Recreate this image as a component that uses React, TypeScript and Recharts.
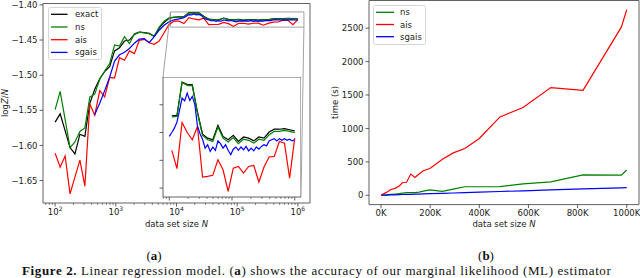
import React from 'react';
import { LineChart, Line, XAxis, YAxis, CartesianGrid, ReferenceArea, ReferenceLine, Legend } from 'recharts';

// ---------- data: (a) accuracy of log Z / N ----------
const sizesN = [100, 121, 146, 176, 212, 256, 309, 373, 450, 543, 655, 791, 954, 1151, 1389, 1677, 2024, 2442, 2947, 3556, 4292, 5179, 6251, 7543, 9103, 10985, 13257, 15999, 19307, 23300, 28118, 33932, 40949, 49417, 59636, 71969, 86851, 104811, 126486, 152642, 184207, 222300, 268270, 323746, 390694, 471487, 568987, 686649, 828643, 1000000];

const exactLogZ = [-1.5668, -1.555, -1.579, -1.603, -1.612, -1.584, -1.587, -1.54, -1.52, -1.505, -1.495, -1.488, -1.4655, -1.461, -1.4514, -1.45, -1.442, -1.4387, -1.4395, -1.4405, -1.4445, -1.433, -1.425, -1.419, -1.4178, -1.417, -1.4169, -1.4109, -1.4113, -1.4114, -1.4163, -1.4203, -1.421, -1.4213, -1.4187, -1.4207, -1.4213, -1.4205, -1.4216, -1.4208, -1.421, -1.4215, -1.4208, -1.421, -1.4199, -1.4194, -1.4194, -1.4193, -1.4195, -1.4197];

const nsLogZ = [-1.549, -1.523, -1.563, -1.603, -1.595, -1.58, -1.575, -1.531, -1.527, -1.506, -1.494, -1.4835, -1.457, -1.4585, -1.4453, -1.4552, -1.441, -1.4387, -1.4397, -1.441, -1.445, -1.4316, -1.4232, -1.4185, -1.4175, -1.4172, -1.4171, -1.411, -1.4115, -1.4116, -1.4165, -1.4205, -1.4213, -1.4216, -1.419, -1.421, -1.4217, -1.4209, -1.422, -1.4212, -1.4214, -1.4219, -1.4212, -1.4214, -1.4204, -1.4198, -1.4198, -1.4196, -1.4198, -1.42];

const aisLogZ = [-1.611, -1.631, -1.615, -1.669, -1.645, -1.621, -1.658, -1.541, -1.557, -1.522, -1.531, -1.503, -1.504, -1.475, -1.4787, -1.4655, -1.4693, -1.4504, -1.449, -1.4538, -1.4561, -1.4514, -1.4397, -1.4278, -1.4232, -1.4232, -1.4265, -1.4182, -1.42, -1.4213, -1.4189, -1.428, -1.4279, -1.4277, -1.4249, -1.4267, -1.4306, -1.4264, -1.4261, -1.4273, -1.4261, -1.4259, -1.4289, -1.4262, -1.4244, -1.4243, -1.4216, -1.4219, -1.4282, -1.421];

const sgaisN = [450, 543, 655, 791, 954, 1151, 1389, 1677, 2024, 2442, 2947, 3556, 4292, 5179, 6251, 7543, 9103, 10000, 10985, 12068, 13257, 14563, 15999, 17575, 19307, 21210, 23300, 25595, 28118, 30888, 33932, 37276, 40949, 44984, 49417, 54287, 59636, 65513, 71969, 79060, 86851, 95410, 104811, 115140, 126486, 138950, 152642, 167683, 184207, 202359, 222300, 244205, 268270, 294705, 323746, 355648, 390694, 429193, 471487, 517947, 568987, 625055, 686649, 754312, 828643, 910298, 1000000];

const sgaisLogZ = [-1.556, -1.54, -1.522, -1.503, -1.48, -1.471, -1.4675, -1.462, -1.4545, -1.4488, -1.448, -1.4538, -1.445, -1.436, -1.429, -1.424, -1.4212, -1.4207, -1.42, -1.4192, -1.4181, -1.416, -1.4138, -1.4143, -1.4129, -1.4142, -1.4135, -1.415, -1.4188, -1.4202, -1.4212, -1.4228, -1.4222, -1.4234, -1.4226, -1.4232, -1.4215, -1.422, -1.4228, -1.4222, -1.4232, -1.424, -1.423, -1.4226, -1.4232, -1.4226, -1.4231, -1.4225, -1.4233, -1.4228, -1.4233, -1.4226, -1.423, -1.4225, -1.4222, -1.4224, -1.4215, -1.4213, -1.4211, -1.4215, -1.4211, -1.4214, -1.4211, -1.4214, -1.4212, -1.4215, -1.4213];

// ---------- data: (b) run time ----------
const timeN = [1000, 20000, 40000, 57000, 74000, 88000, 104000, 121000, 138000, 155000, 172000, 199000, 250000, 294000, 341000, 400000, 484000, 578000, 691000, 822000, 978000, 1000000];
const nsTime = [2, 8, 15, 20, 26, 33, 40, 40, 40, 48, 62, 82, 58, 92, 128, 128, 130, 172, 202, 306, 302, 378];
const aisTime = [5, 40, 88, 104, 140, 192, 195, 318, 268, 320, 367, 400, 540, 635, 701, 850, 1172, 1313, 1611, 1571, 2515, 2775];
const sgaisTime = [1, 4, 6, 8, 10, 12, 13, 15, 17, 19, 21, 24, 30, 35, 41, 47, 57, 68, 80, 95, 112, 116];

// ---------- ticks ----------
const mainYTicks = [-1.65, -1.6, -1.55, -1.5, -1.45, -1.4];
const insetYTicks = [-1.43, -1.425, -1.42, -1.415];
const timeXTicks = [0, 200000, 400000, 600000, 800000, 1000000];
const timeYTicks = [0, 500, 1000, 1500, 2000, 2500];

// ---------- axis ranges ----------
const MAIN_X: [number, number] = [10 ** 1.8, 10 ** 6.2];
const MAIN_Y: [number, number] = [-1.6819, -1.398];
const INSET_X: [number, number] = [10 ** 3.9, 10 ** 6.1];
const INSET_Y: [number, number] = [-1.4316, -1.41];
const TIME_X: [number, number] = [-48950, 1049950];
const TIME_Y: [number, number] = [-138.75, 2913.75];

const C = { exact: '#000000', ns: '#008000', ais: '#ff0000', sgais: '#0000ff' };
const FONT = '"DejaVu Sans", sans-serif';
const TXT = '#222';
const SPINE = '#3a3a3a';

const logMinors = (lo: number, hi: number) => {
  const out: number[] = [];
  for (let e = Math.floor(Math.log10(lo)); e <= Math.ceil(Math.log10(hi)); e++) {
    for (let m = 1; m <= 9; m++) {
      const v = m * 10 ** e;
      if (v >= lo && v <= hi) out.push(v);
    }
  }
  return out;
};
const mainXTicks = logMinors(MAIN_X[0], MAIN_X[1]);
const insetXTicks = logMinors(INSET_X[0], INSET_X[1]);

const mainSeries = [
  { name: 'exact', color: C.exact, data: sizesN.map((n, i) => ({ n, v: exactLogZ[i] })) },
  { name: 'ns', color: C.ns, data: sizesN.map((n, i) => ({ n, v: nsLogZ[i] })) },
  { name: 'ais', color: C.ais, data: sizesN.map((n, i) => ({ n, v: aisLogZ[i] })) },
  { name: 'sgais', color: C.sgais, data: sgaisN.map((n, i) => ({ n, v: sgaisLogZ[i] })) },
];
const insetSeries = mainSeries.map((s) => ({ ...s, data: s.data.filter((d) => d.n >= 10000) }));
const timeSeries = [
  { name: 'ns', color: C.ns, data: timeN.map((n, i) => ({ n, v: nsTime[i] })) },
  { name: 'ais', color: C.ais, data: timeN.map((n, i) => ({ n, v: aisTime[i] })) },
  { name: 'sgais', color: C.sgais, data: timeN.map((n, i) => ({ n, v: sgaisTime[i] })) },
];

// ---------- layout (pixels) ----------
const MAIN_PLOT = { left: 43, top: 3.5, width: 267, height: 199.5 };
const INSET_BOX = { left: 163, top: 77, width: 138, height: 120 };
const pxToMainX = (px: number) => {
  const a = Math.log10(MAIN_X[0]);
  const b = Math.log10(MAIN_X[1]);
  return 10 ** (a + ((px - MAIN_PLOT.left) / MAIN_PLOT.width) * (b - a));
};
const pxToMainY = (py: number) => MAIN_Y[1] - ((py - MAIN_PLOT.top) / MAIN_PLOT.height) * (MAIN_Y[1] - MAIN_Y[0]);

const fmtMinus = (v: number) => (v < 0 ? '\u2212' : '') + Math.abs(v).toFixed(2);

const LogTick = (props: any) => {
  const { x, y, payload, showLabel } = props;
  const e = Math.log10(payload.value);
  const major = Math.abs(e - Math.round(e)) < 1e-6;
  return (
    <g>
      <line x1={x} x2={x} y1={y} y2={y + (major ? 3.5 : 2)} stroke={SPINE} strokeWidth={major ? 0.8 : 0.6} />
      {major && showLabel ? (
        <text x={x} y={y + 11.5} textAnchor="middle" fontSize={8.5} fill={TXT} fontFamily={FONT}>
          10<tspan dy={-3.6} fontSize={6}>{Math.round(e)}</tspan>
        </text>
      ) : null}
    </g>
  );
};

const BottomTick = (props: any) => {
  const { x, y, payload, fmt } = props;
  return (
    <g>
      <line x1={x} x2={x} y1={y} y2={y + 3.5} stroke={SPINE} strokeWidth={0.8} />
      <text x={x} y={y + 11.2} textAnchor="middle" fontSize={8.5} fill={TXT} fontFamily={FONT}>
        {fmt(payload.value)}
      </text>
    </g>
  );
};

const LeftTick = (props: any) => {
  const { x, y, payload, fmt } = props;
  return (
    <g>
      <line x1={x - 3.5} x2={x} y1={y} y2={y} stroke={SPINE} strokeWidth={0.8} />
      {fmt ? (
        <text x={x - 5.5} y={y} dy="0.36em" textAnchor="end" fontSize={8.5} fill={TXT} fontFamily={FONT}>
          {fmt(payload.value)}
        </text>
      ) : null}
    </g>
  );
};

const LegendBox = ({ items, w, h, first, step, l1, l2, tx }: any) => (
  <svg width={w} height={h} style={{ display: 'block', overflow: 'visible' }}>
    <rect x={0.5} y={0.5} width={w - 1} height={h - 1} rx={2} ry={2} fill="#ffffff" fillOpacity={0.8} stroke="#cccccc" strokeWidth={0.8} />
    {items.map((it: any, i: number) => (
      <g key={it.name}>
        <line x1={l1} x2={l2} y1={first + i * step} y2={first + i * step} stroke={it.color} strokeWidth={1.3} />
        <text x={tx} y={first + i * step} dy="0.36em" fontSize={8.5} fill={TXT} fontFamily={FONT}>
          {it.name}
        </text>
      </g>
    ))}
  </svg>
);

export default function App() {
  const connA = [
    { x: INSET_X[0], y: INSET_Y[1] },
    { x: pxToMainX(INSET_BOX.left), y: pxToMainY(INSET_BOX.top) },
  ];
  const connB = [
    { x: INSET_X[1], y: INSET_Y[0] },
    { x: pxToMainX(INSET_BOX.left + INSET_BOX.width), y: pxToMainY(INSET_BOX.top + INSET_BOX.height) },
  ];
  return (
    <div style={{ position: 'absolute', left: 0, top: 0, width: 640, height: 278, background: '#fff', overflow: 'hidden', fontFamily: FONT }}>
      <svg width={640} height={278} style={{ position: 'absolute', left: 0, top: 0 }}>
        <text transform="rotate(-90 4.5 103)" x={4.5} y={103} textAnchor="middle" dominantBaseline="central" fontSize={8.5} fill={TXT} fontFamily={FONT}>
          log<tspan fontStyle="italic">Z</tspan>/<tspan fontStyle="italic">N</tspan>
        </text>
        <text x={176.5} y={227} textAnchor="middle" fontSize={8.5} fill={TXT} fontFamily={FONT}>
          data set size <tspan fontStyle="italic">N</tspan>
        </text>
        <text transform="rotate(-90 335 102.5)" x={335} y={102.5} textAnchor="middle" dominantBaseline="central" fontSize={8.5} fill={TXT} fontFamily={FONT}>
          time (s)
        </text>
        <text x={504} y={227} textAnchor="middle" fontSize={8.5} fill={TXT} fontFamily={FONT}>
          data set size <tspan fontStyle="italic">N</tspan>
        </text>
        <text x={154} y={259.5} textAnchor="middle" fontSize={13} fill="#111" fontFamily='"Liberation Serif", serif'>
          (<tspan fontWeight="bold">a</tspan>)
        </text>
        <text x={486} y={259.5} textAnchor="middle" fontSize={13} fill="#111" fontFamily='"Liberation Serif", serif'>
          (<tspan fontWeight="bold">b</tspan>)
        </text>
        <text x={22} y={274.8} fontSize={13} letterSpacing={0.62} fill="#111" fontFamily='"Liberation Serif", serif'>
          <tspan fontWeight="bold">Figure 2.</tspan>
          {' Linear regression model. ('}
          <tspan fontWeight="bold">a</tspan>
          {') shows the accuracy of our marginal likelihood (ML) estimator'}
        </text>
      </svg>

      {/* (a) main panel */}
      <div style={{ position: 'absolute', left: 0, top: 0 }}>
        <LineChart width={320} height={232} margin={{ top: 3.5, right: 10, bottom: 0, left: 0 }}>
          <XAxis
            dataKey="n"
            type="number"
            scale="log"
            domain={MAIN_X}
            allowDataOverflow
            ticks={mainXTicks}
            interval={0}
            height={29}
            tickSize={0}
            tickMargin={0}
            tickLine={false}
            axisLine={false}
            tick={(p: any) => <LogTick {...p} showLabel />}
          />
          <YAxis
            type="number"
            domain={MAIN_Y}
            allowDataOverflow
            ticks={mainYTicks}
            interval={0}
            width={43}
            tickSize={0}
            tickMargin={0}
            tickLine={false}
            axisLine={false}
            tick={(p: any) => <LeftTick {...p} fmt={fmtMinus} />}
          />
          {mainSeries.map((s) => (
            <Line key={s.name} data={s.data} dataKey="v" name={s.name} stroke={s.color} strokeWidth={1.2} dot={false} activeDot={false} isAnimationActive={false} />
          ))}
          <ReferenceArea x1={INSET_X[0]} x2={INSET_X[1]} y1={INSET_Y[0]} y2={INSET_Y[1]} fill="none" fillOpacity={0} stroke="#8a8a8a" strokeWidth={0.8} ifOverflow="visible" />
          <ReferenceLine segment={connA} stroke="#8a8a8a" strokeWidth={0.8} ifOverflow="visible" />
          <ReferenceLine segment={connB} stroke="#8a8a8a" strokeWidth={0.8} ifOverflow="visible" />
          <ReferenceArea x1={MAIN_X[0]} x2={MAIN_X[1]} y1={MAIN_Y[0]} y2={MAIN_Y[1]} fill="none" fillOpacity={0} stroke={SPINE} strokeWidth={0.8} ifOverflow="visible" />
          <Legend
            layout="horizontal"
            verticalAlign="middle"
            align="center"
            wrapperStyle={{ left: 48, top: 7, width: 54, height: 53 }}
            content={() => <LegendBox items={mainSeries} w={54} h={53} first={7.3} step={12.7} l1={3} l2={19.5} tx={27} />}
          />
        </LineChart>
      </div>

      {/* (a) inset */}
      <div style={{ position: 'absolute', left: INSET_BOX.left - 10, top: INSET_BOX.top }}>
        <LineChart width={INSET_BOX.width + 10} height={INSET_BOX.height + 5} margin={{ top: 0, right: 0, bottom: 0, left: 0 }}>
          <CartesianGrid horizontal={false} vertical={false} fill="#ffffff" fillOpacity={1} />
          <XAxis
            dataKey="n"
            type="number"
            scale="log"
            domain={INSET_X}
            allowDataOverflow
            ticks={insetXTicks}
            interval={0}
            height={5}
            tickSize={0}
            tickMargin={0}
            tickLine={false}
            axisLine={false}
            tick={(p: any) => <LogTick {...p} />}
          />
          <YAxis
            type="number"
            domain={INSET_Y}
            allowDataOverflow
            ticks={insetYTicks}
            interval={0}
            width={10}
            tickSize={0}
            tickMargin={0}
            tickLine={false}
            axisLine={false}
            tick={(p: any) => <LeftTick {...p} />}
          />
          {insetSeries.map((s) => (
            <Line key={s.name} data={s.data} dataKey="v" name={s.name} stroke={s.color} strokeWidth={1.2} dot={false} activeDot={false} isAnimationActive={false} />
          ))}
          <ReferenceArea x1={INSET_X[0]} x2={INSET_X[1]} y1={INSET_Y[0]} y2={INSET_Y[1]} fill="none" fillOpacity={0} stroke={SPINE} strokeWidth={0.8} ifOverflow="visible" />
        </LineChart>
      </div>

      {/* (b) time panel */}
      <div style={{ position: 'absolute', left: 320, top: 0 }}>
        <LineChart width={320} height={232} margin={{ top: 0.5, right: 1, bottom: 0, left: 0 }}>
          <XAxis
            dataKey="n"
            type="number"
            domain={TIME_X}
            allowDataOverflow
            ticks={timeXTicks}
            interval={0}
            height={27.4}
            tickSize={0}
            tickMargin={0}
            tickLine={false}
            axisLine={false}
            tick={(p: any) => <BottomTick {...p} fmt={(v: number) => `${Math.round(v / 1000)}K`} />}
          />
          <YAxis
            type="number"
            domain={TIME_Y}
            allowDataOverflow
            ticks={timeYTicks}
            interval={0}
            width={49}
            tickSize={0}
            tickMargin={0}
            tickLine={false}
            axisLine={false}
            tick={(p: any) => <LeftTick {...p} fmt={(v: number) => String(v)} />}
          />
          {timeSeries.map((s) => (
            <Line key={s.name} data={s.data} dataKey="v" name={s.name} stroke={s.color} strokeWidth={1.2} dot={false} activeDot={false} isAnimationActive={false} />
          ))}
          <ReferenceArea x1={TIME_X[0]} x2={TIME_X[1]} y1={TIME_Y[0]} y2={TIME_Y[1]} fill="none" fillOpacity={0} stroke={SPINE} strokeWidth={0.8} ifOverflow="visible" />
          <Legend
            layout="horizontal"
            verticalAlign="middle"
            align="center"
            wrapperStyle={{ left: 53, top: 5, width: 53, height: 40 }}
            content={() => <LegendBox items={timeSeries} w={53} h={40} first={7.3} step={12.2} l1={3} l2={21} tx={27} />}
          />
        </LineChart>
      </div>
    </div>
  );
}
